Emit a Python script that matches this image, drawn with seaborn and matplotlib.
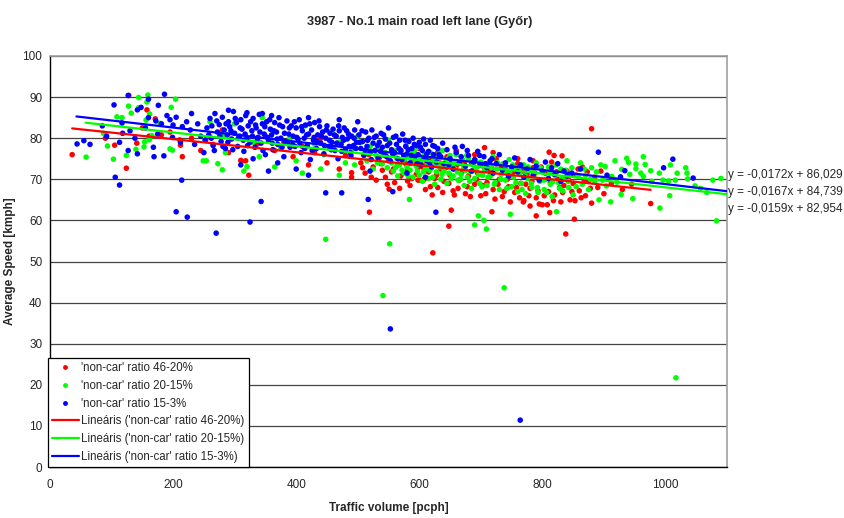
import numpy as np
import pandas as pd
import matplotlib
matplotlib.use("Agg")
import matplotlib.pyplot as plt
from matplotlib.lines import Line2D
import seaborn as sns

# ---------------- data ----------------
series_names = ["'non-car' ratio 46-20%", "'non-car' ratio 20-15%", "'non-car' ratio 15-3%"]
trend_names = ["Lineáris ('non-car' ratio 46-20%)", "Lineáris ('non-car' ratio 20-15%)",
               "Lineáris ('non-car' ratio 15-3%)"]
trend_slope = [-0.0159, -0.0167, -0.0172]
trend_intercept = [82.954, 84.739, 86.029]
trend_x_range = [(36, 976), (58, 1100), (43, 1100)]

red_pts = [
    (36, 76.0), (105, 78.3), (124, 72.7), (141, 78.8), (161, 80.5), (157.5, 86.9), (171, 84.7), (128, 90.4),
    (181, 80.8), (211, 79.6), (212, 78.3), (215, 75.5), (253, 79.6), (301, 83.6), (311, 74.4), (318, 74.5),
    (323, 71.0), (90, 80.0), (150, 82.5), (195, 81.5), (230, 80.0), (265, 78.5), (280, 82.0), (245, 77.0),
    (290, 76.5), (310, 74.6), (337, 78.6), (350, 80.5), (365, 77.0), (380, 79.0), (395, 75.5), (410, 78.0),
    (420, 73.5), (430, 76.5), (440, 80.0), (450, 74.0), (460, 77.5), (470, 72.5), (480, 75.8), (490, 70.5),
    (519, 62.0), (621, 66.2), (648, 58.6), (622, 52.1), (652, 62.5), (551, 67.6), (490, 71.6), (581, 69.6),
    (598, 69.8), (657, 66.2), (718, 62.1), (769, 64.5), (790, 61.1), (812, 61.9), (838, 56.7), (852, 60.3),
    (880, 82.3), (811, 76.6), (819, 75.8), (832, 75.7), (706, 77.7), (755, 73.1),
    (505, 74.0), (512, 71.5), (518, 76.0), (525, 73.0), (530, 69.8), (535, 75.2), (540, 72.2), (545, 70.5),
    (550, 74.5), (555, 71.8), (560, 69.2), (565, 73.5), (570, 70.8), (575, 75.8), (580, 72.0), (585, 68.5),
    (590, 74.2), (595, 71.2), (600, 69.8), (605, 73.0), (610, 67.5), (615, 71.8), (620, 74.8), (625, 70.2),
    (630, 68.0), (635, 72.5), (640, 69.5), (645, 75.5), (650, 71.0), (655, 67.2), (660, 73.2), (665, 69.8),
    (670, 72.0), (675, 66.5), (680, 70.8), (685, 74.0), (690, 68.8), (695, 71.5), (700, 66.0), (705, 73.0),
    (710, 69.2), (715, 71.8), (720, 67.5), (725, 75.0), (730, 70.0), (735, 65.8), (740, 72.5), (745, 68.2),
    (750, 70.8), (755, 66.8), (760, 73.8), (765, 69.0), (770, 64.8), (775, 71.2), (780, 67.8), (785, 72.8),
    (790, 65.5), (795, 69.8), (800, 63.8), (805, 71.5), (810, 67.0), (815, 74.2), (820, 66.2), (825, 70.0),
    (830, 64.5), (835, 68.5), (840, 72.0), (845, 65.0), (850, 69.0), (855, 71.0), (860, 67.2), (865, 73.0),
    (870, 66.0), (875, 69.5), (880, 64.2), (885, 70.5), (890, 68.0), (895, 72.0), (900, 66.5), (912, 69.0),
    (930, 67.5), (945, 68.8), (976, 64.1), (780, 63.5), (795, 64.0), (808, 63.8), (785, 74.5), (760, 75.0),
    (720, 76.5), (690, 76.0), (660, 77.0), (630, 76.5), (600, 77.5), (570, 77.0),
    (508, 72.8), (522, 70.5), (538, 73.8), (548, 68.8), (558, 72.5), (568, 67.8), (578, 73.8), (588, 70.2),
    (598, 72.8), (608, 70.0), (612, 73.8), (618, 68.2), (628, 71.0), (633, 74.0), (638, 66.8), (643, 72.8),
    (648, 69.0), (653, 74.2), (663, 67.8), (668, 71.5), (673, 73.8), (678, 68.2), (683, 65.8), (688, 72.2),
    (693, 70.0), (698, 73.5), (703, 68.5), (708, 66.5), (713, 70.5), (718, 72.8), (723, 65.2), (728, 68.8),
    (733, 73.2), (738, 67.0), (743, 70.0), (748, 64.5), (753, 71.8), (758, 68.0), (763, 65.5), (768, 72.0),
    (773, 68.8), (778, 66.0), (783, 69.5), (788, 71.5), (793, 67.2), (798, 73.0), (803, 66.0), (813, 69.2),
    (818, 64.8), (823, 71.8), (828, 68.0), (833, 66.8), (843, 69.8), (848, 67.0), (853, 64.8), (858, 72.5),
    (863, 65.5), (868, 69.5), (873, 71.8), (878, 67.8),
]

green_pts = [
    (58.7, 75.4), (108.7, 85.2), (117, 85.0), (132, 86.1), (127.6, 87.8), (144, 87.4), (144, 89.9), (159, 90.5),
    (157.5, 88.8), (204, 89.5), (197, 87.5), (162, 85.9), (156, 84.4), (179, 83.6), (87, 81.2), (93.4, 78.1),
    (103, 74.9), (124, 75.8), (139.6, 77.3), (153.7, 79.1), (152.7, 77.9), (161.3, 79.6), (195, 77.4),
    (198.8, 77.1), (165.7, 80.6), (249, 74.5), (254, 74.5), (272.7, 73.8), (280, 72.3), (315, 72.0), (320, 73.1),
    (260, 84.0), (280, 80.5), (300, 83.5), (330, 79.0), (345, 85.0), (360, 82.0), (375, 77.5), (390, 80.0),
    (400, 74.5), (415, 83.0), (430, 78.5), (445, 76.0), (455, 81.5), (470, 79.0), (480, 74.0), (490, 77.0),
    (448, 55.4), (285, 76.5), (340, 75.5), (365, 73.0), (410, 71.5), (440, 72.5), (470, 71.0), (495, 73.5),
    (500, 80.5),
    (505, 79.0), (510, 76.0), (515, 74.5), (520, 78.0), (525, 72.5), (530, 75.8), (535, 77.5), (540, 73.8),
    (545, 76.5), (550, 79.5), (552, 54.3), (541, 41.7), (555, 74.0), (558, 72.0), (560, 77.0), (563, 75.2),
    (565, 70.8), (568, 73.5), (570, 76.8), (573, 74.5), (575, 71.5), (578, 78.2), (580, 73.0), (583, 75.5),
    (584, 65.1), (585, 72.2), (588, 76.2), (590, 70.5), (593, 74.8), (595, 73.2), (598, 77.8), (600, 71.0),
    (603, 74.0), (605, 69.5), (608, 75.8), (610, 72.5), (613, 73.8), (615, 70.2), (618, 76.5), (620, 72.8),
    (623, 74.5), (625, 68.8), (628, 71.8), (630, 75.2), (633, 73.0), (635, 70.0), (638, 77.0), (640, 72.0),
    (643, 74.2), (645, 69.0), (648, 71.5), (650, 75.8), (653, 73.2), (655, 70.8), (658, 72.5), (660, 76.0),
    (663, 69.8), (665, 73.8), (668, 71.2), (670, 74.8), (673, 68.5), (675, 72.2), (678, 70.5), (680, 75.0),
    (683, 71.8), (685, 67.8), (688, 73.5), (690, 58.9), (690, 70.2), (693, 72.8), (696, 61.1), (698, 69.0),
    (700, 74.2), (703, 71.0), (705, 60.0), (706, 72.2), (709, 57.9), (710, 68.5), (713, 73.0), (716, 70.8),
    (720, 75.5), (723, 69.2), (726, 72.5), (730, 67.5), (733, 71.2), (736, 73.8), (738, 43.6), (740, 69.8),
    (743, 72.0), (746, 74.8), (748, 61.5), (750, 68.2), (753, 70.5), (756, 72.8), (760, 67.0), (763, 71.5),
    (766, 69.0), (770, 73.5), (773, 66.5), (776, 70.2), (780, 72.2), (783, 68.0), (786, 70.8), (790, 74.0),
    (793, 66.8), (796, 69.5), (800, 71.8), (803, 67.5), (806, 70.0), (810, 73.0), (813, 68.8), (816, 65.8),
    (820, 71.0), (823, 62.1), (826, 69.2), (830, 72.5), (833, 67.2), (836, 70.5), (840, 74.5), (843, 68.0),
    (846, 71.2), (850, 66.2),
    (902, 73.1), (918, 74.5), (940, 74.1), (952, 73.7), (967, 73.6), (960, 71.5), (976, 72.1), (990, 71.5),
    (1008, 73.5), (1019, 71.5), (1033, 72.8), (1035, 71.5), (1036, 70.1), (1016, 69.8), (996, 69.8),
    (1005, 69.6), (1048, 68.4), (1057, 67.8), (1067, 66.8), (1077, 69.8), (1090, 70.2), (1007, 66.0),
    (991, 63.0), (947, 65.3), (911, 64.5), (928, 66.3), (1083, 59.9), (952, 72.6), (929, 72.4), (942, 71.2),
    (964, 70.7), (978, 69.5), (913, 70.7), (904, 68.4), (921, 69.3), (964, 75.5), (937, 75.1), (1017, 21.7),
    (862, 74.0), (870, 71.0), (875, 67.5), (880, 72.8), (885, 69.5), (892, 65.0), (895, 73.5),
    (522, 76.8), (532, 74.0), (542, 75.8), (548, 72.8), (557, 76.0), (562, 73.0), (567, 74.8), (572, 72.2),
    (577, 75.0), (582, 70.8), (587, 73.8), (592, 76.8), (597, 72.0), (602, 75.5), (607, 71.8), (612, 74.8),
    (617, 72.2), (622, 70.5), (627, 73.8), (632, 76.2), (637, 71.2), (642, 73.0), (647, 75.0), (652, 70.2),
    (657, 74.0), (662, 71.8), (667, 70.0), (672, 73.2), (677, 75.8), (682, 69.5), (687, 72.0), (692, 74.5),
    (697, 71.2), (702, 68.2), (707, 73.8), (712, 70.5), (717, 72.8), (722, 68.8), (727, 74.0), (732, 70.0),
    (737, 72.2), (742, 67.8), (747, 71.8), (752, 73.5), (757, 69.2), (762, 72.0), (767, 67.5), (772, 70.8),
    (777, 73.0), (782, 69.0), (787, 71.5), (792, 68.0), (797, 72.8), (802, 69.8), (807, 66.8), (812, 71.5),
    (817, 69.5), (822, 73.5), (828, 67.8), (832, 70.2), (838, 72.2), (842, 69.5), (848, 72.8), (855, 68.2),
    (858, 70.8), (865, 68.8), (868, 72.5), (878, 70.0), (888, 71.8), (898, 69.8),
]

blue_pts = [
    (44, 78.6), (55, 79.4), (65, 78.5), (104, 88.1), (127, 90.4), (186, 90.7), (113, 79.0), (106, 70.5),
    (113, 68.6), (127, 77.0), (142, 76.2), (130, 81.8), (117, 83.7), (118, 81.2), (142, 86.9), (168, 77.8),
    (169, 75.5), (148, 87.5), (176, 88.0), (190, 85.5), (160, 85.0), (181, 83.5), (185, 75.7), (195, 84.5),
    (205, 85.1), (200, 83.2), (215, 82.8), (222, 84.0), (214, 69.8), (230, 86.0), (228, 82.0), (240, 83.5),
    (245, 80.5), (235, 78.5), (250, 76.5), (252, 79.5), (205, 62.1), (223, 60.8), (270, 56.9), (325, 59.6),
    (343, 64.6), (155, 82.5), (172, 84.2), (199, 80.2), (212, 79.0), (160, 89.5), (138, 80.0), (175, 81.0),
    (92, 80.5), (85, 83.0),
    (255, 82.5), (260, 84.8), (262, 80.0), (265, 78.2), (268, 86.0), (272, 81.5), (275, 83.3), (278, 79.2),
    (280, 85.1), (283, 82.0), (285, 77.5), (288, 80.8), (290, 84.0), (292, 82.8), (295, 79.8), (298, 86.5),
    (300, 81.2), (303, 83.8), (305, 78.0), (308, 80.5), (310, 84.5), (312, 82.2), (315, 76.8), (318, 85.5),
    (320, 80.0), (322, 83.0), (325, 79.0), (328, 81.8), (330, 84.8), (333, 77.8), (335, 82.5), (338, 80.2),
    (340, 85.8), (343, 78.8), (345, 83.5), (348, 81.0), (350, 76.0), (352, 84.0), (355, 79.5), (358, 82.2),
    (360, 80.8), (362, 77.2), (365, 83.8), (368, 81.5), (370, 78.5), (372, 85.0), (375, 80.0), (378, 82.8),
    (380, 75.5), (382, 79.2), (385, 84.2), (388, 81.0), (390, 77.8), (392, 83.0), (395, 80.5), (398, 78.0),
    (400, 82.5), (403, 79.8), (405, 84.5), (408, 76.5), (410, 81.8), (413, 80.0), (415, 83.2), (418, 78.2),
    (420, 81.0), (423, 74.8), (425, 82.0), (428, 79.5), (430, 83.8), (433, 77.5), (435, 80.8), (438, 82.8),
    (440, 78.8), (443, 81.5), (445, 76.2), (448, 80.0), (450, 83.0), (453, 78.0), (455, 81.2), (458, 79.0),
    (460, 82.2), (463, 77.0), (465, 80.5), (468, 75.0), (470, 81.8), (473, 78.5), (475, 80.2), (478, 82.5),
    (480, 77.2), (483, 79.8), (485, 81.0), (488, 76.5), (490, 80.5), (493, 78.2), (495, 82.0), (498, 79.0),
    (310, 73.5), (355, 72.0), (400, 72.5), (448, 66.7), (474, 66.7), (420, 71.0), (370, 74.0), (330, 75.0),
    (320, 86.2), (345, 86.0), (290, 86.8), (360, 85.5), (420, 85.0), (470, 84.5), (500, 84.0),
    (502, 80.8), (505, 77.5), (508, 79.2), (510, 75.8), (513, 81.5), (515, 78.0), (518, 80.0), (520, 76.5),
    (523, 82.0), (525, 78.8), (528, 77.0), (530, 80.5), (533, 75.2), (535, 79.0), (538, 81.2), (540, 77.8),
    (543, 76.0), (545, 79.8), (548, 78.2), (550, 82.5), (553, 74.5), (555, 77.2), (558, 80.2), (560, 76.5),
    (563, 78.5), (565, 75.0), (568, 79.5), (570, 77.0), (573, 81.0), (575, 75.8), (578, 78.0), (580, 76.2),
    (583, 79.2), (585, 74.0), (588, 77.5), (590, 80.0), (593, 75.5), (595, 78.2), (598, 76.0), (600, 79.0),
    (603, 73.5), (605, 77.0), (608, 75.2), (610, 78.5), (613, 74.5), (615, 76.8), (618, 79.5), (620, 73.0),
    (623, 76.0), (625, 78.0), (628, 74.2), (630, 77.5), (635, 75.5), (640, 73.8), (645, 77.2), (650, 75.0),
    (655, 72.5), (660, 76.5), (665, 74.0), (670, 78.0), (675, 73.2), (680, 75.8), (685, 72.0), (690, 74.8),
    (695, 76.8), (700, 73.5), (517, 65.1), (557, 67.0), (627, 62.0), (553, 33.6), (520, 72.0), (580, 71.5),
    (610, 70.5),
    (705, 75.5), (710, 72.8), (715, 74.5), (720, 71.5), (725, 73.8), (730, 76.0), (735, 72.2), (740, 74.0),
    (745, 70.8), (750, 73.0), (755, 75.2), (760, 71.8), (765, 73.5), (770, 70.5), (775, 72.5), (780, 74.8),
    (785, 71.0), (790, 73.2), (795, 69.8), (800, 72.0), (805, 74.2), (810, 70.2), (815, 72.8), (820, 71.2),
    (825, 73.8), (830, 69.5), (835, 72.0), (840, 70.8), (848, 71.5), (764, 11.4),
    (862, 72.5), (891, 76.6), (905, 71.0), (927, 70.6), (934, 72.1), (997, 72.8), (1012, 74.9), (1045, 70.3),
    (258, 80.8), (263, 83.0), (267, 77.0), (271, 84.2), (276, 80.5), (281, 78.0), (286, 83.5), (289, 79.0),
    (294, 81.8), (297, 77.2), (301, 84.8), (306, 80.0), (309, 82.5), (314, 79.5), (317, 81.0), (321, 78.2),
    (326, 84.0), (329, 80.5), (334, 83.2), (337, 79.8), (341, 81.5), (346, 77.0), (349, 82.8), (353, 80.2),
    (357, 84.5), (361, 78.8), (364, 81.8), (369, 79.8), (373, 83.2), (377, 77.8), (381, 81.2), (386, 79.0),
    (389, 82.5), (394, 78.5), (397, 84.0), (401, 80.2), (406, 78.8), (409, 82.8), (414, 77.5), (417, 80.8),
    (422, 83.5), (426, 77.0), (429, 80.2), (434, 79.2), (437, 84.2), (441, 80.5), (446, 78.2), (449, 82.0),
    (454, 79.5), (457, 77.2), (462, 80.8), (466, 78.8), (469, 83.0), (474, 76.8), (477, 79.5), (482, 81.8),
    (486, 78.0), (489, 75.8), (494, 80.0), (497, 77.5), (503, 79.0), (507, 81.8), (512, 77.0), (516, 79.5),
    (522, 74.8), (527, 80.2), (532, 78.2), (537, 76.8), (542, 80.8), (547, 75.5), (552, 78.8), (557, 76.2),
    (562, 80.5), (567, 77.5), (572, 74.8), (577, 79.5), (582, 77.2), (587, 75.8), (592, 78.5), (597, 73.8),
    (602, 77.8), (607, 79.8), (612, 76.2), (617, 74.0), (622, 78.2), (632, 76.0), (638, 78.8), (648, 73.5),
    (658, 77.8), (668, 75.5), (678, 77.0), (688, 74.2), (698, 75.8), (708, 73.8), (718, 75.0),
]

x_ticks = [0, 200, 400, 600, 800, 1000]
y_ticks = [0, 10, 20, 30, 40, 50, 60, 70, 80, 90, 100]

# ---------------- styling ----------------
sns.set_style("white")
plt.rcParams['font.family'] = ['Liberation Sans', 'DejaVu Sans']

colors = ["#FF0000", "#00FF00", "#0000FF"]
FS = 8.5

frames = []
for name, pts in zip(series_names, [red_pts, green_pts, blue_pts]):
    arr = np.array(pts)
    frames.append(pd.DataFrame({"volume": arr[:, 0], "speed": arr[:, 1], "series": name}))
df = pd.concat(frames, ignore_index=True)

fig = plt.figure(figsize=(8.45, 5.18), dpi=100)
ax = fig.add_axes([50 / 845, 51 / 518, 677 / 845, 411 / 518])

for name, col in zip(series_names, colors):
    sub = df[df["series"] == name]
    sns.scatterplot(data=sub, x="volume", y="speed", color=col, s=16, linewidth=0,
                    edgecolor="none", ax=ax, legend=False, zorder=3)

trend_rows = []
for name, m, b, (x0, x1) in zip(trend_names, trend_slope, trend_intercept, trend_x_range):
    for xv in (x0, x1):
        trend_rows.append({"volume": xv, "speed": m * xv + b, "series": name})
tdf = pd.DataFrame(trend_rows)
for name, col in zip(trend_names, colors):
    sub = tdf[tdf["series"] == name]
    sns.lineplot(data=sub, x="volume", y="speed", color=col, linewidth=1.6, ax=ax,
                 legend=False, zorder=4)

ax.set_xlim(0, 1100)
ax.set_ylim(0, 100)
ax.set_xticks(x_ticks)
ax.set_yticks(y_ticks)
ax.tick_params(axis="both", labelsize=FS, direction="inout", length=5, width=0.8, color="black", pad=3)
ax.tick_params(axis="x", pad=6)
ax.yaxis.grid(True, color="#444444", linewidth=0.9, zorder=0)
ax.xaxis.grid(False)
ax.set_axisbelow(True)
for side in ["left", "bottom"]:
    ax.spines[side].set_color("black")
    ax.spines[side].set_linewidth(1.0)
for side in ["right", "top"]:
    ax.spines[side].set_color("#A0A0A0")
    ax.spines[side].set_linewidth(1.2)

ax.set_xlabel("Traffic volume [pcph]", fontsize=FS, fontweight="bold", labelpad=8)
ax.set_ylabel("Average Speed [kmph]", fontsize=FS, fontweight="bold", labelpad=5)
fig.text(0.497, 0.958, "3987 - No.1 main road left lane (Győr)", ha="center", va="center",
         fontsize=9.2, fontweight="bold")

# equation labels (blue, green, red from top to bottom)
eq_pos = [71.0, 66.9, 62.8]
for idx, ypos in zip([2, 1, 0], eq_pos):
    s = f"y = {trend_slope[idx]:.4f}x + {trend_intercept[idx]:.3f}".replace(".", ",")
    ax.text(1102, ypos, s, fontsize=FS, ha="left", va="center", clip_on=False)

handles = [Line2D([0], [0], marker="o", color="none", markerfacecolor=c, markeredgecolor="none",
                  markersize=3.5) for c in colors]
handles += [Line2D([0], [0], color=c, linewidth=1.6) for c in colors]
leg = ax.legend(handles, series_names + trend_names, loc="lower left", bbox_to_anchor=(-0.003, 0),
                fontsize=8.3, frameon=True, fancybox=False, framealpha=1, edgecolor="black",
                borderaxespad=0, handlelength=2.3, handletextpad=0.25, labelspacing=0.5,
                borderpad=0.35)
leg.get_frame().set_linewidth(0.9)
leg.set_zorder(10)

fig.savefig("out.png", dpi=100)
